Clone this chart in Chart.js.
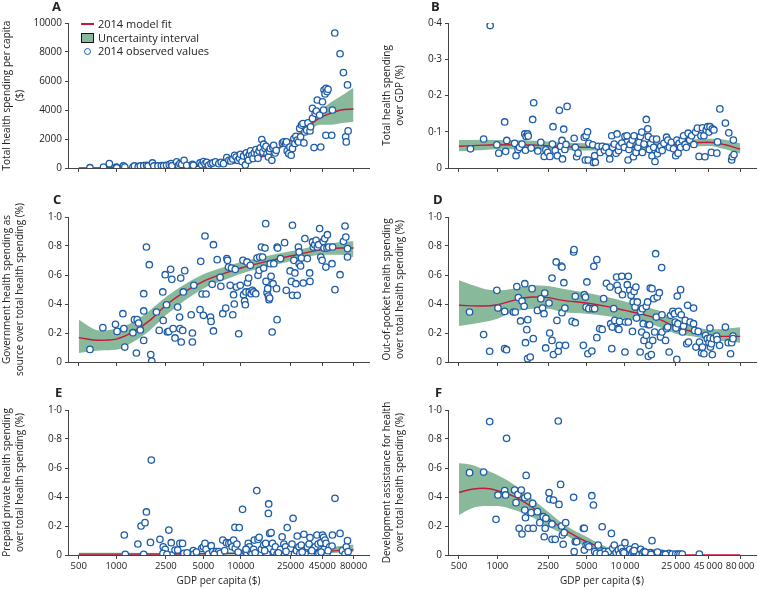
<!DOCTYPE html>
<html>
<head>
<meta charset="utf-8">
<script src="https://cdn.jsdelivr.net/npm/chart.js@4.4.1/dist/chart.umd.min.js"></script>
<style>
  html, body { margin: 0; padding: 0; background: #fff; }
  body { width: 758px; height: 590px; position: relative; overflow: hidden; font-family: 'Open Sans', sans-serif; color: #222; }
  canvas { position: absolute; }
  .letter { position: absolute; font-weight: bold; font-size: 13px; line-height: 13px; }
  .leg { position: absolute; font-size: 11px; line-height: 13px; white-space: nowrap; }
  .sw { position: absolute; }
</style>
</head>
<body>
<canvas id="pA" width="380" height="180" style="left:0;top:0"></canvas>
<canvas id="pB" width="390" height="180" style="left:380px;top:0"></canvas>
<canvas id="pE" width="380" height="215" style="left:0;top:375px"></canvas>
<canvas id="pF" width="390" height="215" style="left:380px;top:375px"></canvas>
<canvas id="pC" width="380" height="200" style="left:0;top:185px"></canvas>
<canvas id="pD" width="390" height="200" style="left:380px;top:185px"></canvas>

<div class="letter" style="left:52px;top:0px">A</div>
<div class="letter" style="left:431px;top:0px">B</div>
<div class="letter" style="left:53px;top:193px">C</div>
<div class="letter" style="left:433px;top:193px">D</div>
<div class="letter" style="left:55px;top:386px">E</div>
<div class="letter" style="left:435px;top:386px">F</div>

<!-- legend -->
<div class="sw" style="left:81px;top:23px;width:13px;height:1.5px;background:#c8173d"></div>
<div class="sw" style="left:81px;top:33px;width:11px;height:8px;background:#88b99b;border:1px solid #111"></div>
<div class="sw" style="left:83.5px;top:47.5px;width:5px;height:5px;border:1.3px solid #1c5ca8;border-radius:50%"></div>
<div class="leg" style="left:98px;top:17px">2014 model fit</div>
<div class="leg" style="left:98px;top:31px">Uncertainty interval</div>
<div class="leg" style="left:98px;top:44px">2014 observed values</div>

<script>
// 颜色与字体
const BLUE = '#1c5ca8';
const GREEN = '#88b99b';
const RED = '#c8173d';
const AXIS = '#444';
const TEXT = '#222';
const Y_TICK_FONT = { family: 'Open Sans', size: 10 };
const X_TICK_FONT = { family: 'Open Sans', size: 9.5 };
const TITLE_FONT = { family: 'Open Sans', size: 10, lineHeight: 1.35 };

// 坐标轴刻度
const xTicks = [500, 1000, 2500, 5000, 10000, 25000, 45000, 80000];
const xLabelsE = ['500', '1000', '2500', '5000', '10000', '25000', '45000', '80000'];
const xLabelsF = ['500', '1000', '2500', '5000', '10\u2009000', '25\u2009000', '45\u2009000', '80\u2009000'];
const yTicksA = [0, 2000, 4000, 6000, 8000, 10000];
const yLabelsA = ['0', '2000', '4000', '6000', '8000', '10000'];
const yTicksB = [0, 0.1, 0.2, 0.3, 0.4];
const yLabelsB = ['0', '0·1', '0·2', '0·3', '0·4'];
const yTicksShare = [0, 0.2, 0.4, 0.6, 0.8, 1];
const yLabelsShare = ['0', '0·2', '0·4', '0·6', '0·8', '1·0'];

// A: total health spending per capita
const aGdp = [615,790,880,1000,1010,1140,1170,1360,1400,1500,1560,1660,1750,1800,1950,2000,2160,2300,2400,
  2530,2660,2760,2800,3050,3150,3240,3350,3500,3670,4080,4150,4700,4850,5000,5150,5320,5500,5750,5950,6250,6650,6950,7250,7700,8000,8300,8600,8900,9150,9450,9750,9900,
  10200,10500,10850,11050,11300,11500,11700,11950,12250,12500,12800,13200,13500,13700,14000,14300,14700,15000,15200,15600,15900,16200,16600,16900,17200,17700,18000,18300,18800,19200,21500,22100,22800,23200,23500,24200,24700,
  25300,25900,26600,27100,27600,28300,29000,29600,30100,30600,31400,32000,32600,33700,34500,35800,36200,37500,38600,37500,39400,40300,41000,42800,43700,45100,46000,46400,47300,48200,49100,50000,48000,53500,54200,56600,62400,66400,71600,69200,70000,72400];
const aVal = [20,70,300,70,20,140,70,70,140,90,140,160,190,140,350,140,140,160,160,
  190,230,300,160,420,190,300,250,530,190,250,190,350,230,440,300,390,190,300,350,420,300,390,300,720,530,490,620,880,760,530,670,950,
  440,830,210,1040,760,530,950,1180,880,650,1040,1270,950,670,1180,1390,1960,1110,1640,1340,1500,990,760,1180,1340,530,1430,1570,1040,1220,1730,1800,1690,1800,1180,990,1450,
  880,1340,2030,1690,2190,1920,1800,2730,2150,2960,3070,1730,2490,2610,3120,2560,2840,3420,1410,4110,3770,3930,4690,3650,1450,4570,4000,5380,5110,5500,5270,5430,2260,2260,4000,9310,7880,6580,5730,2150,1800,2560];
const aFitGdp = [500,1000,2500,5000,10000,14300,18300,20800,25000,30100,36200,43700,52500,63200,80000];
const aFit = [0,20,60,160,420,760,1100,1450,1900,2400,3000,3490,3770,4000,4070];
const aLow = [0,0,30,110,350,680,1000,1330,1760,2230,2720,2980,2980,3080,3190];
const aHigh = [40,50,100,210,490,840,1200,1570,2050,2600,3320,4000,4520,4950,5540];

// B: total health spending over GDP
const bGdp = [615,780,878,990,1025,1140,1160,1185,1365,1400,1450,1490,1560,1640,1680,1725,1745,1660,1840,1890,
  1925,2075,2190,2330,2400,2480,2580,2700,2730,2840,2950,3060,3130,3210,3240,3310,3380,3450,3520,4000,
  4080,4180,4290,4800,4890,4960,5090,5150,5210,5590,5660,5790,5860,6170,6390,6630,6900,7090,7500,7600,
  7880,8020,8250,8520,8680,8900,9000,9450,9870,10000,10380,10580,10750,10950,11400,11650,11800,12200,12600,12900,
  13200,13550,13700,14100,14700,15100,15250,15500,15900,16300,16500,16800,17200,17700,18000,18600,19100,19600,20200,21200,
  21700,22300,23100,24000,25000,25500,26100,26600,27300,28100,28800,29600,30300,31300,32200,33300,34700,35800,37000,38100,
  39400,40500,41600,42400,43400,44500,45600,46400,47600,48400,49800,52500,53200,55500,61300,65200,70800,68600,69400,71600];
const bVal = [0.053,0.080,0.393,0.064,0.041,0.127,0.046,0.076,0.068,0.034,0.051,0.057,0.066,0.094,0.087,0.094,0.088,0.049,0.055,0.134,
  0.180,0.047,0.071,0.032,0.050,0.043,0.032,0.066,0.114,0.048,0.034,0.159,0.060,0.076,0.025,0.107,0.051,0.065,0.170,0.082,
  0.057,0.031,0.041,0.085,0.022,0.089,0.100,0.022,0.068,0.064,0.015,0.034,0.016,0.060,0.043,0.060,0.049,0.057,0.043,0.025,
  0.089,0.057,0.066,0.041,0.094,0.048,0.060,0.069,0.057,0.087,0.089,0.022,0.051,0.065,0.077,0.031,0.089,0.043,0.057,0.071,
  0.087,0.099,0.043,0.066,0.134,0.108,0.087,0.051,0.068,0.034,0.080,0.057,0.018,0.080,0.039,0.051,0.060,0.048,0.068,0.085,
  0.077,0.057,0.071,0.053,0.034,0.077,0.041,0.068,0.057,0.077,0.089,0.065,0.057,0.096,0.077,0.089,0.065,0.099,0.110,0.032,
  0.089,0.111,0.089,0.031,0.105,0.114,0.099,0.114,0.043,0.108,0.105,0.041,0.072,0.163,0.124,0.097,0.077,0.022,0.031,0.037];
const bFitGdp = [500,780,1000,2000,5000,10000,25000,45000,61000,80000];
const bFit = [0.060,0.063,0.064,0.063,0.057,0.057,0.065,0.071,0.064,0.052];
const bLow = [0.046,0.050,0.052,0.052,0.048,0.049,0.057,0.061,0.052,0.040];
const bHigh = [0.077,0.078,0.077,0.075,0.068,0.068,0.075,0.081,0.078,0.068];

// C: government health spending share
const cGdp = [615,780,985,1015,1130,1150,1170,1360,1400,1470,1510,1560,1660,1660,1450,1660,1745,1840,1890,1925,
  2100,2210,2360,2380,2470,2530,2570,2640,2730,2790,2860,2960,3110,3220,3240,3320,3290,3410,3450,3540,
  3990,4080,4080,4190,4700,4760,4880,5000,5150,5250,5700,5760,5880,6020,6020,6450,6810,6900,7150,7550,
  7710,7800,7950,8200,8400,8600,8730,8850,9000,9200,9600,9870,10380,10500,10700,10850,10950,11180,11300,11530,
  11650,11890,12100,12350,12650,13150,13460,13700,14000,14150,14600,14900,15230,15600,15800,15900,16200,16400,16600,16800,
  17000,17200,17450,17800,18100,18340,19300,19500,19500,19700,20760,22400,23100,24800,25400,25900,25900,26600,27100,27600,
  28300,28900,29300,29300,30100,30600,31600,32600,34100,35600,35800,37500,38100,39100,40100,41000,42000,42800,43700,44800,
  45700,46400,47000,48000,49000,49400,50600,53800,54400,56800,62400,66400,68400,69400,71600,71600];
const cVal = [0.087,0.237,0.260,0.211,0.333,0.230,0.103,0.202,0.292,0.292,0.269,0.221,0.352,0.149,0.062,0.471,0.793,0.671,0.051,0.007,
  0.345,0.218,0.483,0.287,0.602,0.395,0.207,0.211,0.639,0.570,0.230,0.166,0.379,0.310,0.230,0.138,0.579,0.218,0.483,0.630,
  0.326,0.200,0.138,0.529,0.361,0.694,0.469,0.322,0.869,0.469,0.310,0.280,0.536,0.214,0.809,0.706,0.584,0.522,0.333,0.372,
  0.713,0.701,0.655,0.529,0.648,0.326,0.464,0.400,0.639,0.517,0.195,0.529,0.701,0.464,0.421,0.395,0.483,0.690,0.547,0.579,
  0.483,0.667,0.471,0.494,0.483,0.471,0.717,0.598,0.632,0.724,0.793,0.724,0.648,0.786,0.954,0.556,0.478,0.506,0.455,0.430,
  0.441,0.678,0.591,0.207,0.540,0.678,0.506,0.292,0.793,0.786,0.713,0.823,0.494,0.628,0.556,0.943,0.460,0.701,0.614,0.540,
  0.460,0.793,0.678,0.759,0.662,0.717,0.545,0.851,0.713,0.614,0.556,0.828,0.793,0.809,0.839,0.793,0.809,0.920,0.724,0.701,
  0.832,0.786,0.851,0.655,0.786,0.878,0.793,0.678,0.793,0.499,0.602,0.832,0.938,0.862,0.782,0.724];
const cFitGdp = [500,734,1000,1363,1858,2500,3450,5000,7250,10000,16200,25000,45000,63000,80000];
const cFit = [0.168,0.150,0.158,0.207,0.287,0.391,0.478,0.556,0.609,0.648,0.694,0.731,0.775,0.786,0.786];
const cLow = [0.062,0.080,0.085,0.138,0.218,0.322,0.418,0.506,0.563,0.609,0.655,0.694,0.740,0.740,0.724];
const cHigh = [0.292,0.218,0.230,0.276,0.356,0.448,0.529,0.605,0.653,0.690,0.731,0.763,0.809,0.828,0.832];

// D: out-of-pocket share
const dGdp = [605,780,870,990,1010,1140,1140,1180,1335,1380,1420,1460,1520,1560,1620,1640,1660,1700,1730,1725,
  1810,1870,1910,2060,2190,2260,2320,2350,2390,2540,2570,2680,2680,2750,2890,2930,3000,3060,3170,3210,
  3210,3320,3380,3420,3850,3960,3990,4080,4080,4720,4800,4900,4960,5030,5120,5210,5500,5590,5790,5700,
  6020,6020,6340,6630,6810,7160,7640,7730,7880,7960,8170,8320,8600,8680,8800,8870,8970,9070,9450,9560,
  10000,10100,10430,10630,10630,10900,11180,11450,11600,11800,12000,12180,12330,12500,13150,13300,13540,13710,13900,14100,
  14700,14700,15050,15200,15250,15400,15600,15800,16100,16300,16500,16800,17100,17400,17600,17900,18600,19000,19400,19500,
  19500,20800,21200,21600,22200,22800,23700,24400,24800,25100,25500,25700,26000,26300,27300,27600,28300,28800,29700,30500,
  31000,31500,32400,34500,34500,35200,36000,37500,38400,39900,40500,41600,42900,44200,45600,46400,46400,46800,47600,48400,
  49400,52300,52800,55200,61300,64500,67300,68600,70300,70300];
const dVal = [0.345,0.189,0.074,0.494,0.372,0.349,0.092,0.085,0.345,0.345,0.520,0.444,0.283,0.421,0.384,0.540,0.133,0.223,0.292,0.023,
  0.034,0.506,0.161,0.356,0.437,0.372,0.333,0.476,0.097,0.407,0.200,0.149,0.579,0.051,0.690,0.287,0.074,0.115,0.662,0.655,
  0.340,0.547,0.372,0.115,0.280,0.759,0.775,0.271,0.453,0.115,0.464,0.448,0.379,0.552,0.057,0.368,0.076,0.368,0.368,0.660,
  0.706,0.168,0.230,0.225,0.437,0.543,0.517,0.264,0.092,0.241,0.368,0.287,0.586,0.529,0.230,0.494,0.225,0.280,0.591,0.464,
  0.069,0.276,0.533,0.591,0.276,0.494,0.460,0.211,0.414,0.487,0.379,0.517,0.303,0.414,0.069,0.349,0.207,0.368,0.264,0.149,
  0.184,0.384,0.414,0.257,0.039,0.115,0.257,0.510,0.051,0.506,0.149,0.437,0.207,0.747,0.310,0.448,0.478,0.172,0.651,0.326,
  0.207,0.149,0.230,0.241,0.069,0.322,0.349,0.333,0.276,0.234,0.018,0.455,0.264,0.349,0.499,0.326,0.207,0.248,0.287,0.126,
  0.391,0.138,0.276,0.372,0.264,0.218,0.103,0.211,0.138,0.062,0.103,0.057,0.184,0.161,0.133,0.234,0.166,0.103,0.126,0.051,
  0.161,0.179,0.154,0.115,0.241,0.133,0.057,0.133,0.179,0.161];
const dFitGdp = [500,780,1000,1340,1890,2500,3240,5000,7150,10000,14700,19500,25000,33700,45000,61000,80000];
const dFit = [0.391,0.386,0.395,0.425,0.448,0.444,0.425,0.407,0.384,0.356,0.322,0.287,0.241,0.211,0.184,0.177,0.177];
const dLow = [0.248,0.276,0.299,0.345,0.368,0.368,0.345,0.333,0.317,0.299,0.271,0.234,0.195,0.177,0.156,0.143,0.133];
const dHigh = [0.563,0.506,0.494,0.506,0.529,0.524,0.506,0.478,0.448,0.418,0.379,0.345,0.287,0.248,0.225,0.230,0.239];

// E: prepaid private share
const eGdp = [1160,1180,1490,1580,1660,1700,1745,1880,1910,2240,2380,2470,2370,2640,2760,2780,2960,3110,3240,3400,
  3490,3990,4150,4190,4850,5000,5150,5250,5500,5780,5950,6330,6630,6810,7150,7660,8000,8320,8500,8730,
  8950,9000,9280,9700,9870,10300,10500,10850,11180,11450,11700,11890,12250,12650,12800,13400,13700,14000,14150,14600,
  15230,15800,16200,16600,16700,17000,17450,17900,18340,18900,19500,20760,21400,22100,22800,23500,24200,25000,25700,26200,
  26900,27900,28300,29200,29700,30500,32000,32400,33000,34100,35200,35800,36700,38300,39400,40700,41600,42300,43700,45100,
  46000,46400,47300,48200,49000,51500,53800,54200,56800,62400,65200,68400,70000,71600,72400,
  2550,3700,4400,6100,7400,9500,11000,13000,15500,20000,23000,31000,37000,44000,50000];
const eVal = [0.138,0.005,0.076,0.200,0.005,0.223,0.297,0.087,0.655,0.108,0.057,0.039,0.011,0.172,0.085,0.000,0.034,0.034,0.080,0.080,
  0.011,0.011,0.030,0.007,0.046,0.057,0.080,0.039,0.007,0.064,0.023,0.023,0.023,0.011,0.103,0.085,0.080,0.085,0.057,0.103,
  0.191,0.046,0.076,0.189,0.007,0.315,0.011,0.023,0.011,0.080,0.057,0.023,0.007,0.039,0.103,0.444,0.108,0.122,0.011,0.039,
  0.069,0.080,0.007,0.287,0.352,0.149,0.154,0.080,0.023,0.057,0.007,0.039,0.126,0.076,0.057,0.189,0.011,0.046,0.076,0.253,
  0.007,0.030,0.131,0.057,0.011,0.069,0.143,0.030,0.007,0.057,0.076,0.120,0.007,0.046,0.057,0.138,0.076,0.011,0.085,0.138,
  0.122,0.039,0.103,0.080,0.007,0.057,0.062,0.138,0.391,0.149,0.030,0.007,0.057,0.099,0.023,
  0.005,0.015,0.020,0.005,0.030,0.020,0.040,0.015,0.030,0.015,0.025,0.020,0.030,0.020,0.030];
const eFitGdp = [500,2500,10000,25000,45000,80000];
const eFit = [0.006,0.007,0.011,0.018,0.025,0.036];
const eLow = [0,0,0.003,0.006,0.010,0.020];
const eHigh = [0.015,0.014,0.020,0.032,0.048,0.072];

// F: development assistance share
const fGdp = [605,780,870,975,1010,1140,1160,1180,1365,1400,1450,1480,1540,1560,1640,1640,1660,1680,1725,1745,
  1840,1890,1910,2060,2150,2290,2330,2370,2400,2540,2570,2680,2680,2750,2840,3000,3040,3130,3190,3230,
  3280,3340,3430,3960,4000,4080,4180,4720,4800,4800,4960,5120,5210,5500,5660,5790,5980,6170,6630,6900,
  7410,7830,8020,8250,8520,8870,9070,9340,9620,10000,10300,10630,10900,11250,11530,12000,12330,12500,12900,13300,
  13700,14100,14700,15050,15400,15800,16300,16800,17400,17900,18500,19400,20200,21600,22200,23400,25000,26100,27000,28100,
  38300,6400,7000,9800,11800,14400,16000,18000,20800];
const fVal = [0.568,0.572,0.920,0.246,0.414,0.444,0.414,0.805,0.448,0.361,0.418,0.184,0.448,0.145,0.395,0.310,0.257,0.549,0.407,0.184,
  0.292,0.356,0.184,0.299,0.223,0.264,0.126,0.184,0.253,0.430,0.384,0.214,0.108,0.379,0.108,0.924,0.349,0.487,0.200,0.138,
  0.074,0.154,0.223,0.398,0.023,0.092,0.092,0.184,0.184,0.034,0.069,0.069,0.057,0.409,0.345,0.023,0.011,0.069,0.195,0.023,
  0.023,0.149,0.046,0.069,0.016,0.034,0.007,0.046,0.023,0.085,0.023,0.011,0.039,0.007,0.023,0.057,0.011,0.023,0.007,0.039,
  0.011,0.023,0.007,0.011,0.007,0.016,0.099,0.011,0.007,0.011,0.007,0.011,0.007,0.007,0.011,0.007,0.007,0.007,0.007,0.007,
  0.007,0.010,0.005,0.015,0.030,0.020,0.004,0.020,0.004];
const fFitGdp = [500,630,780,1000,1365,1850,2500,3240,5000,7150,10000,14700,25000,80000];
const fFit = [0.432,0.453,0.460,0.444,0.402,0.333,0.253,0.184,0.092,0.039,0.011,0.002,0,0];
const fLow = [0.276,0.322,0.338,0.338,0.310,0.264,0.195,0.149,0.057,0.018,0.005,0,0,0];
const fHigh = [0.632,0.621,0.591,0.552,0.483,0.391,0.299,0.218,0.126,0.057,0.023,0.008,0.002,0];

// 把两个数组合成点
function pts(xs, ys) {
    const n = Math.min(xs.length, ys.length);
    const out = [];
    for (let i = 0; i < n; i++) out.push({ x: xs[i], y: ys[i] });
    return out;
}

// 画一个面板
function makePanel(cfg) {
    const ctx = document.getElementById(cfg.id).getContext('2d');
    return new Chart(ctx, {
        type: 'line',
        data: {
            datasets: [
                { data: pts(cfg.fitGdp, cfg.low), borderWidth: 0, pointRadius: 0, fill: false, order: 3, cubicInterpolationMode: 'monotone' },
                { data: pts(cfg.fitGdp, cfg.high), borderWidth: 0, pointRadius: 0, fill: '-1', backgroundColor: GREEN, order: 2, cubicInterpolationMode: 'monotone' },
                { data: pts(cfg.fitGdp, cfg.fit), borderColor: RED, borderWidth: 1.4, pointRadius: 0, fill: false, order: 1, cubicInterpolationMode: 'monotone' },
                { data: pts(cfg.gdp, cfg.val), showLine: false, pointRadius: 3.2, pointBorderWidth: 1.3,
                  pointBorderColor: BLUE, pointBackgroundColor: '#fff', order: 0 }
            ]
        },
        options: {
            responsive: false,
            animation: false,
            devicePixelRatio: 1,
            layout: { padding: { top: cfg.padTop, right: cfg.padRight, left: 0, bottom: 0 } },
            plugins: { legend: { display: false }, tooltip: { enabled: false } },
            scales: {
                x: {
                    type: 'logarithmic',
                    min: 410,
                    max: 106500,
                    afterBuildTicks: s => { s.ticks = xTicks.map(v => ({ value: v })); },
                    afterFit: s => { s.height = cfg.xHeight; },
                    ticks: {
                        display: !!cfg.xLabels,
                        autoSkip: false,
                        maxRotation: 0,
                        padding: 2,
                        color: TEXT,
                        font: X_TICK_FONT,
                        callback: (v, i) => cfg.xLabels ? cfg.xLabels[i] : ''
                    },
                    grid: { drawOnChartArea: false, drawTicks: true, tickLength: 4, color: AXIS },
                    border: { color: AXIS, width: 1 },
                    title: { display: !!cfg.xLabels, text: 'GDP per capita ($)', color: TEXT, font: TITLE_FONT, padding: { top: 0, bottom: 2 } }
                },
                y: {
                    min: 0,
                    max: cfg.yMax,
                    afterBuildTicks: s => { s.ticks = cfg.yTicks.map(v => ({ value: v })); },
                    afterFit: s => { s.width = 68; },
                    ticks: { padding: 3, color: TEXT, font: Y_TICK_FONT, callback: (v, i) => cfg.yLabels[i] },
                    grid: { drawOnChartArea: false, drawTicks: true, tickLength: 3, color: AXIS },
                    border: { color: AXIS, width: 1 },
                    title: { display: true, text: cfg.title, color: TEXT, font: TITLE_FONT, padding: { top: 0, bottom: 0 } }
                }
            }
        }
    });
}

const LEFT = { padRight: 11 };
const RIGHT = { padRight: 14 };

makePanel(Object.assign({ id: 'pA', gdp: aGdp, val: aVal, fitGdp: aFitGdp, fit: aFit, low: aLow, high: aHigh,
    yMax: 10000, yTicks: yTicksA, yLabels: yLabelsA, title: ['Total health spending per capita', '($)'],
    padTop: 23, xHeight: 12 }, LEFT));
makePanel(Object.assign({ id: 'pB', gdp: bGdp, val: bVal, fitGdp: bFitGdp, fit: bFit, low: bLow, high: bHigh,
    yMax: 0.4, yTicks: yTicksB, yLabels: yLabelsB, title: ['Total health spending', 'over GDP (%)'],
    padTop: 23, xHeight: 12 }, RIGHT));
makePanel(Object.assign({ id: 'pC', gdp: cGdp, val: cVal, fitGdp: cFitGdp, fit: cFit, low: cLow, high: cHigh,
    yMax: 1, yTicks: yTicksShare, yLabels: yLabelsShare, title: ['Government health spending as', 'source over total health spending (%)'],
    padTop: 32, xHeight: 23 }, LEFT));
makePanel(Object.assign({ id: 'pD', gdp: dGdp, val: dVal, fitGdp: dFitGdp, fit: dFit, low: dLow, high: dHigh,
    yMax: 1, yTicks: yTicksShare, yLabels: yLabelsShare, title: ['Out-of-pocket health spending', 'over total health spending (%)'],
    padTop: 32, xHeight: 23 }, RIGHT));
makePanel(Object.assign({ id: 'pE', gdp: eGdp, val: eVal, fitGdp: eFitGdp, fit: eFit, low: eLow, high: eHigh,
    yMax: 1, yTicks: yTicksShare, yLabels: yLabelsShare, title: ['Prepaid private health spending', 'over total health spending (%)'],
    padTop: 35, xHeight: 35, xLabels: xLabelsE }, LEFT));
makePanel(Object.assign({ id: 'pF', gdp: fGdp, val: fVal, fitGdp: fFitGdp, fit: fFit, low: fLow, high: fHigh,
    yMax: 1, yTicks: yTicksShare, yLabels: yLabelsShare, title: ['Development assistance for health', 'over total health spending (%)'],
    padTop: 35, xHeight: 35, xLabels: xLabelsF }, RIGHT));
</script>
</body>
</html>
